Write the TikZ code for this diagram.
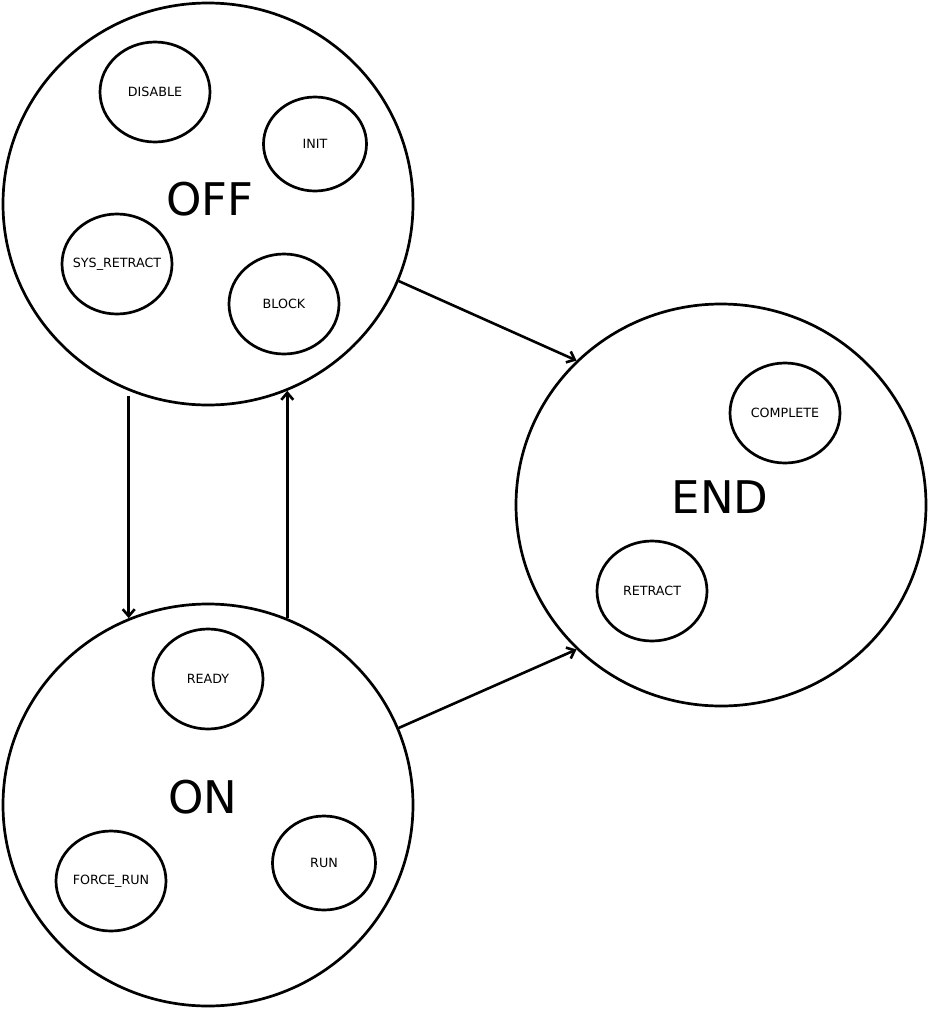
\documentclass[tikz,border=0pt]{standalone}
\usepackage{fontspec}
\setmainfont{DejaVu Sans}
\usetikzlibrary{shapes.geometric,arrows.meta}
\begin{document}
\begin{tikzpicture}[x=1pt,y=-1pt,
  big/.style={ellipse,draw,line width=2.7pt,minimum width=410pt,minimum height=402pt,inner sep=0pt},
  sublbl/.style={font=\fontsize{12.7}{15}\selectfont,inner sep=0pt},
  sub/.style={ellipse,draw,line width=2.7pt,minimum width=110pt,minimum height=100pt,inner sep=0pt,
    label={[sublbl]center:#1}},
  subs/.style={sub=#1,minimum width=103pt,minimum height=94pt},
  title/.style={font=\fontsize{45}{54}\selectfont,inner sep=0pt},
  conn/.style={line width=2.6pt,-{Straight Barb[length=7pt,width=12pt,line width=2.6pt]}}]
\useasboundingbox (0,0) rectangle (929,1009);

% composite states
\node[big] (OFF) at (208,204) {};
\node[big] (END) at (721,505) {};
\node[big] (ON)  at (208,805) {};

\node[title] (offlbl) at (210,199) {OFF};
\node[title] (endlbl) at (720,497) {END};
\node[title] (onlbl)  at (203,797) {ON};

% sub-states of OFF
\node[sub=DISABLE]      (disable) at (155,92)  {};
\node[subs=INIT]        (init)    at (315,144) {};
\node[sub=SYS\_RETRACT] (sysret)  at (117,264) {};
\node[sub=BLOCK]        (block)   at (284,304) {};

% sub-states of END
\node[sub=COMPLETE] (complete) at (785,413) {};
\node[sub=RETRACT]  (retract)  at (652,591) {};

% sub-states of ON
\node[sub=READY]      (ready)    at (208,679) {};
\node[sub=FORCE\_RUN] (forcerun) at (111,881) {};
\node[subs=RUN]       (run)      at (324,863) {};

% transitions
\draw[conn] (OFF.-22.2) -- (END.135.4);
\draw[conn] (ON.22.5) -- (END.-135.6);
\draw[conn,shorten <=5pt] (OFF.-113.1) -- (ON.113.1);
\draw[conn] (ON.67.8) -- (OFF.-67.8);
\end{tikzpicture}
\end{document}
